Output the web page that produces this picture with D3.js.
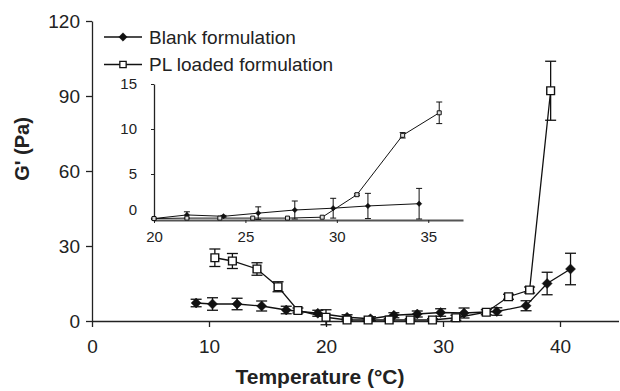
<!DOCTYPE html>
<html>
<head>
<meta charset="utf-8">
<script src="https://cdn.jsdelivr.net/npm/d3@7"></script>
<style>
  html, body { margin: 0; padding: 0; background: #fff; }
  svg { display: block; font-family: "Liberation Sans", Arial, sans-serif; }
</style>
</head>
<body>
<div id="chart"></div>
<script>
// main chart data: temperature (°C), G' (Pa), error (Pa)
const blankTemp = [8.9, 10.3, 12.4, 14.5, 16.6, 19.3, 21.8, 23.8, 25.8, 27.8, 29.8, 31.8, 34.6, 37.1, 38.9, 40.9];
const blankG = [7.2, 6.8, 6.8, 6.0, 4.4, 3.1, 1.5, 0.9, 2.3, 2.8, 3.4, 3.2, 3.8, 6.1, 15.0, 20.8];
const blankErr = [1.5, 2.5, 2.3, 2.0, 1.5, 1.2, 1.0, 0.8, 1.0, 1.2, 1.5, 2.0, 1.5, 2.0, 4.5, 6.3];

const plTemp = [10.5, 12.0, 14.1, 15.9, 17.6, 20.0, 21.8, 23.6, 25.4, 27.2, 29.1, 31.1, 33.7, 35.6, 37.4, 39.2];
const plG = [25.3, 24.0, 20.8, 13.7, 4.2, 1.5, 0.4, 0.4, 0.4, 0.4, 0.4, 1.3, 3.5, 9.7, 12.4, 92.1];
const plErr = [3.5, 3.0, 2.5, 2.0, 1.0, 3.0, 0.5, 0.5, 0.5, 0.5, 0.5, 1.0, 1.0, 1.0, 1.2, 11.8];

// inset data (20-37 °C)
const insetBlankTemp = [20, 21.8, 23.8, 25.7, 27.7, 29.8, 31.7, 34.5];
const insetBlankG = [0.05, 0.45, 0.3, 0.65, 1.0, 1.2, 1.45, 1.7];
const insetBlankErr = [0.05, 0.35, 0.1, 0.7, 1.0, 1.1, 1.4, 1.7];
const insetPlTemp = [20, 21.8, 23.6, 25.4, 27.3, 29.2, 31.1, 33.6, 35.6];
const insetPlG = [0.05, 0.1, 0.1, 0.1, 0.1, 0.2, 2.7, 9.3, 11.8];
const insetPlErr = [0, 0, 0, 0, 0, 0, 0.1, 0.3, 1.2];

const xTicks = [0, 10, 20, 30, 40];
const yTicks = [0, 30, 60, 90, 120];
const insetXTicks = [20, 25, 30, 35];
const insetYTicks = [0, 5, 10, 15];
const seriesNames = ['Blank formulation', 'PL loaded formulation'];

const width = 620, height = 391;
const svg = d3.select('#chart').append('svg')
  .attr('width', width)
  .attr('height', height);

const x = d3.scaleLinear().domain([0, 45]).range([92, 618.5]);
const y = d3.scaleLinear().domain([0, 120]).range([321, 21]);

// axes
const xAxis = svg.append('g')
  .attr('transform', `translate(0,${y(0)})`)
  .call(d3.axisBottom(x).tickValues(xTicks).tickSize(6).tickPadding(13).tickSizeOuter(0));
const yAxis = svg.append('g')
  .attr('transform', `translate(${x(0)},0)`)
  .call(d3.axisLeft(y).tickValues(yTicks).tickSize(6).tickPadding(6).tickSizeOuter(0));
[xAxis, yAxis].forEach(g => {
  g.selectAll('path, line').attr('stroke', '#222').attr('stroke-width', 1.3);
  g.selectAll('text').attr('fill', '#222').style('font-size', '19px')
    .style('font-family', '"Liberation Sans", Arial, sans-serif');
});

svg.append('text')
  .attr('x', 320).attr('y', 384)
  .attr('text-anchor', 'middle')
  .style('font-size', '21px').style('font-weight', 'bold').attr('fill', '#222')
  .text('Temperature (°C)');
svg.append('text')
  .attr('transform', 'translate(29,149) rotate(-90)')
  .attr('text-anchor', 'middle')
  .style('font-size', '20px').style('font-weight', 'bold').attr('fill', '#222')
  .text("G' (Pa)");

// square diamond (equal width and height)
const diamondPath = r => `M0,${-r}L${r},0L0,${r}L${-r},0Z`;
const square = d3.symbol().type(d3.symbolSquare);

function drawSeries(g, xs, ys, temps, vals, errs, opts) {
  const pts = temps.map((t, i) => ({ t, v: vals[i], e: errs[i] }));
  g.append('path')
    .datum(pts)
    .attr('fill', 'none')
    .attr('stroke', '#111')
    .attr('stroke-width', opts.lw)
    .attr('d', d3.line().x(d => xs(d.t)).y(d => ys(d.v)));
  const eb = g.append('g').selectAll('g').data(pts.filter(d => d.e > 0)).enter().append('g')
    .attr('stroke', '#111').attr('stroke-width', opts.lw);
  eb.append('line')
    .attr('x1', d => xs(d.t)).attr('x2', d => xs(d.t))
    .attr('y1', d => ys(d.v - d.e)).attr('y2', d => ys(d.v + d.e));
  ['-', '+'].forEach(s => {
    eb.append('line')
      .attr('x1', d => xs(d.t) - opts.cap).attr('x2', d => xs(d.t) + opts.cap)
      .attr('y1', d => ys(s === '+' ? d.v + d.e : d.v - d.e))
      .attr('y2', d => ys(s === '+' ? d.v + d.e : d.v - d.e));
  });
  g.append('g').selectAll('path').data(pts).enter().append('path')
    .attr('transform', d => `translate(${xs(d.t)},${ys(d.v)})`)
    .attr('d', opts.symbol)
    .attr('fill', opts.fill)
    .attr('stroke', '#111')
    .attr('stroke-width', opts.sw);
}

const main = svg.append('g');
drawSeries(main, x, y, blankTemp, blankG, blankErr,
  { lw: 1.3, cap: 5.5, symbol: diamondPath(5), fill: '#111', sw: 0.5 });
drawSeries(main, x, y, plTemp, plG, plErr,
  { lw: 1.3, cap: 5.5, symbol: square.size(60)(), fill: '#fff', sw: 1.4 });

// legend
const legend = svg.append('g');
seriesNames.forEach((name, i) => {
  const ly = 37 + i * 27.5;
  legend.append('line').attr('x1', 104).attr('x2', 142).attr('y1', ly).attr('y2', ly)
    .attr('stroke', '#111').attr('stroke-width', 1.3);
  legend.append('path')
    .attr('transform', `translate(123,${ly})`)
    .attr('d', i === 0 ? diamondPath(4.2) : square.size(40)())
    .attr('fill', i === 0 ? '#111' : '#fff')
    .attr('stroke', '#111').attr('stroke-width', i === 0 ? 0.5 : 1.3);
  legend.append('text')
    .attr('x', 149).attr('y', ly)
    .attr('dy', '0.35em')
    .style('font-size', '19px').attr('fill', '#222')
    .text(name);
});

// inset
const ix = d3.scaleLinear().domain([20, 36.9]).range([154, 463]);
const iy = d3.scaleLinear().domain([0, 15]).range([219, 84]);
const inset = svg.append('g');
const ixAxis = inset.append('g')
  .attr('transform', `translate(0,${iy(0) + 1})`)
  .call(d3.axisBottom(ix).tickValues(insetXTicks).tickSize(3).tickPadding(8).tickSizeOuter(0));
ixAxis.select('.domain').attr('stroke', '#555').attr('stroke-width', 2.2);
const iyAxis = inset.append('g')
  .attr('transform', `translate(${ix(20)},0)`)
  .call(d3.axisLeft(iy).tickValues(insetYTicks).tickSize(3).tickPadding(14).tickSizeOuter(0));
iyAxis.select('.domain').attr('stroke', '#222').attr('stroke-width', 1.3);
iyAxis.selectAll('.tick').filter(d => d === 0).select('text').attr('dy', '-0.3em');
[ixAxis, iyAxis].forEach(g => {
  g.selectAll('.tick line').attr('stroke', '#222').attr('stroke-width', 1);
  g.selectAll('text').attr('fill', '#222').style('font-size', '15px')
    .style('font-family', '"Liberation Sans", Arial, sans-serif');
});

drawSeries(inset, ix, iy, insetBlankTemp, insetBlankG, insetBlankErr,
  { lw: 1, cap: 3, symbol: diamondPath(2.7), fill: '#111', sw: 0.5 });
drawSeries(inset, ix, iy, insetPlTemp, insetPlG, insetPlErr,
  { lw: 1, cap: 3, symbol: square.size(16)(), fill: '#ddd', sw: 1 });
</script>
</body>
</html>
